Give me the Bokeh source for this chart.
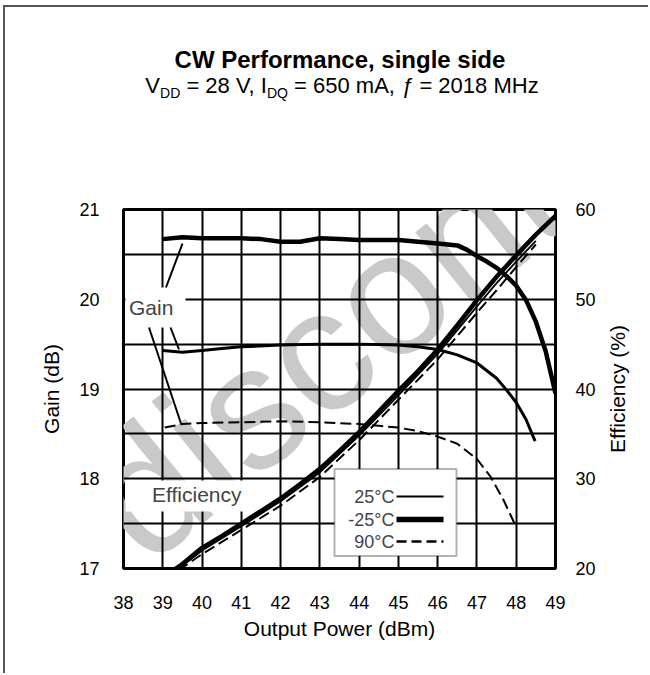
import math
from bokeh.plotting import figure
from bokeh.models import Range1d, LinearAxis, FixedTicker, Label, BoxAnnotation, Arrow, Div
from bokeh.layouts import column, row
from bokeh.embed import file_html
from bokeh.resources import INLINE

# ---------------- data ----------------
x_ticks = [38, 39, 40, 41, 42, 43, 44, 45, 46, 47, 48, 49]
gain_ticks = [17, 18, 19, 20, 21]
gain_grid = [17, 17.5, 18, 18.5, 19, 19.5, 20, 20.5, 21]
eff_ticks = [20, 30, 40, 50, 60]

pout_g_m25 = [39.0, 39.5, 40.0, 40.5, 41.0, 41.5, 42.0, 42.5, 43.0, 43.5, 44.0, 44.5, 45.0,
              45.5, 46.0, 46.5, 46.75, 47.0, 47.25, 47.5, 47.75, 48.0, 48.25, 48.5, 48.75, 49.0]
gain_m25 = [20.67, 20.69, 20.68, 20.68, 20.68, 20.67, 20.64, 20.64, 20.68, 20.67, 20.66, 20.66, 20.66,
            20.64, 20.62, 20.60, 20.55, 20.48, 20.42, 20.35, 20.26, 20.15, 19.99, 19.75, 19.42, 18.95]

pout_g_25 = [39.0, 39.5, 40.0, 40.5, 41.0, 42.0, 43.0, 44.0, 45.0, 45.5, 46.0, 46.5, 47.0,
             47.5, 47.75, 48.0, 48.25, 48.48]
gain_25 = [19.43, 19.41, 19.43, 19.45, 19.47, 19.49, 19.50, 19.50, 19.49, 19.47, 19.44, 19.38, 19.29,
           19.12, 18.99, 18.85, 18.66, 18.42]

pout_g_90 = [39.05, 39.5, 40.0, 41.0, 42.0, 43.0, 44.0, 44.5, 45.0, 45.5, 46.0, 46.5, 47.0,
             47.35, 47.68, 48.0]
gain_90 = [18.57, 18.61, 18.62, 18.63, 18.64, 18.63, 18.61, 18.59, 18.57, 18.53, 18.47, 18.39, 18.22,
           18.02, 17.76, 17.46]

pout_e_m25 = [39.2, 39.5, 40.0, 40.5, 41.0, 41.5, 42.0, 42.5, 43.0, 43.5, 44.0, 44.5, 45.0, 45.5,
              46.0, 46.5, 47.0, 47.5, 48.0, 48.5, 49.0]
eff_m25 = [19.6, 20.5, 22.3, 23.6, 25.0, 26.4, 27.8, 29.4, 31.1, 33.1, 35.2, 37.5, 39.8, 42.0,
           44.4, 47.1, 49.9, 52.5, 54.9, 57.2, 59.3]

pout_e_25 = [39.3, 39.5, 40.0, 41.0, 42.0, 43.0, 44.0, 45.0, 46.0, 47.0, 47.5, 48.0, 48.5]
eff_25 = [19.7, 20.3, 22.0, 24.7, 27.5, 30.7, 34.8, 39.3, 43.9, 49.2, 51.8, 54.2, 56.5]

pout_e_90 = [39.4, 40.0, 41.0, 42.0, 43.0, 44.0, 45.0, 46.0, 47.0, 47.5, 48.0, 48.5]
eff_90 = [19.8, 21.6, 24.3, 27.0, 30.2, 34.3, 38.8, 43.3, 48.5, 51.0, 53.6, 56.1]

legend_labels = ["25°C", "-25°C", "90°C"]
title_text = "CW Performance, single side"
x_title = "Output Power (dBm)"
y_title = "Gain (dB)"
y2_title = "Efficiency (%)"

# ---------------- layout constants ----------------
FONT = "Liberation Sans"
OX, OY = 5, 7                 # content origin on page (after margin + border)
DIV_H = 100
FL, FT, FW, FH = 123.0, 209.0, 432.0, 359.0   # frame position on page
TOTAL_W = 643
CANVAS_H = 566
MBL = int(FL - OX)
MBT = int(FT - OY - DIV_H)
MBR = 45
CANVAS_W = MBL + int(FW) + MBR
SIDE_W = TOTAL_W - CANVAS_W
MBB = CANVAS_H - MBT - int(FH)

# ---------------- title block ----------------
html = (
    f"<div style=\"font-family:'{FONT}',Arial,sans-serif;color:black;line-height:1;"
    f"width:620px;margin-left:25px;text-align:center;padding-top:41px;\">"
    f"<div style=\"font-size:24px;font-weight:bold;\">{title_text}</div>"
    f"<div style=\"font-size:22px;margin-top:3px;padding-left:4px;white-space:nowrap;\">"
    f"V<span style=\"font-size:14px;vertical-align:-4.5px;line-height:0;\">DD</span> = 28 V, "
    f"I<span style=\"font-size:14px;vertical-align:-4.5px;line-height:0;\">DQ</span> = 650 mA, "
    f"<i>ƒ</i> = 2018 MHz</div></div>"
)
head = Div(text=html, width=TOTAL_W, height=DIV_H, margin=0)

# right-hand axis title (reads bottom-to-top, as in the reference)
rx = 617 - (OX + CANVAS_W)
ry = 389 - (OY + DIV_H)
side_html = (
    f"<div style=\"position:relative;width:{SIDE_W}px;height:{CANVAS_H}px;\">"
    f"<div style=\"position:absolute;left:{rx}px;top:{ry}px;"
    f"transform:translate(-50%,-50%) rotate(180deg);writing-mode:vertical-rl;"
    f"font-family:'{FONT}',Arial,sans-serif;font-size:21px;line-height:1;white-space:nowrap;"
    f"color:black;\">{y2_title}</div></div>"
)
side = Div(text=side_html, width=SIDE_W, height=CANVAS_H, margin=0)

# ---------------- figure ----------------
p = figure(frame_width=int(FW), frame_height=int(FH),
           min_border_left=MBL, min_border_right=MBR, min_border_top=MBT, min_border_bottom=MBB,
           x_range=Range1d(38, 49), y_range=Range1d(17, 21),
           output_backend="svg", toolbar_location=None, margin=0)
p.extra_y_ranges = {"eff": Range1d(20, 60)}
p.background_fill_color = "white"
p.border_fill_color = "white"
p.outline_line_color = "black"
p.outline_line_width = 3

p.xgrid.ticker = FixedTicker(ticks=x_ticks)
p.ygrid.ticker = FixedTicker(ticks=gain_grid)
for g in (p.xgrid, p.ygrid):
    g.grid_line_color = "black"
    g.grid_line_width = 2
    g.grid_line_alpha = 1

def style_axis(ax, standoff, title, title_standoff):
    ax.axis_line_color = None
    ax.major_tick_line_color = None
    ax.minor_tick_line_color = None
    ax.major_label_standoff = standoff
    ax.major_label_text_font = FONT
    ax.major_label_text_font_size = "18px"
    ax.major_label_text_color = "black"
    if title:
        ax.axis_label = title
        ax.axis_label_text_font = FONT
        ax.axis_label_text_font_size = "21px"
        ax.axis_label_text_font_style = "normal"
        ax.axis_label_text_color = "black"
        ax.axis_label_standoff = title_standoff

p.xaxis.ticker = FixedTicker(ticks=x_ticks)
style_axis(p.xaxis[0], 21, x_title, 5)
p.yaxis.ticker = FixedTicker(ticks=gain_ticks)
style_axis(p.yaxis[0], 18, y_title, 13)

ax_r = LinearAxis(y_range_name="eff", ticker=FixedTicker(ticks=eff_ticks))
style_axis(ax_r, 14, None, 0)
p.add_layout(ax_r, "right")

def sx(X):
    return X - FL
def sy(Y):
    return FT + FH - Y

# watermark (under grid)
p.add_layout(Label(x=sx(490), y=sy(212), x_units="screen", y_units="screen",
                   text="discontinued", angle=math.radians(39),
                   text_font=FONT, text_font_size="175px", text_color="#c9c9c9",
                   text_align="center", text_baseline="alphabetic", level="image"))

# curves
p.line(pout_g_m25, gain_m25, line_color="black", line_width=4.5, line_join="round")
p.line(pout_g_25, gain_25, line_color="black", line_width=3, line_join="round")
p.line(pout_g_90, gain_90, line_color="black", line_width=2, line_dash="11 5")
p.line(pout_e_m25, eff_m25, y_range_name="eff", line_color="black", line_width=4.5, line_join="round")
p.line(pout_e_25, eff_25, y_range_name="eff", line_color="black", line_width=1.8, line_join="round")
p.line(pout_e_90, eff_90, y_range_name="eff", line_color="black", line_width=2, line_dash="11 5")

def dx(X):
    return 38 + (X - FL) * 11.0 / FW
def gy(Y):
    return 21 - (Y - FT) * 4.0 / FH

# annotation boxes and texts
p.add_layout(BoxAnnotation(left=dx(125), right=dx(185), top=gy(287), bottom=gy(327),
                           fill_color="white", fill_alpha=1, line_color=None))
p.add_layout(BoxAnnotation(left=dx(125), right=dx(250), top=gy(480), bottom=gy(511),
                           fill_color="white", fill_alpha=1, line_color=None))
p.add_layout(Label(x=sx(128.5), y=sy(307), x_units="screen", y_units="screen", text="Gain",
                   text_font=FONT, text_font_size="21px", text_align="left", text_baseline="middle"))
p.add_layout(Label(x=sx(151.5), y=sy(494), x_units="screen", y_units="screen", text="Efficiency",
                   text_font=FONT, text_font_size="21px", text_align="left", text_baseline="middle"))

for (x0, y0, x1, y1) in [(165.5, 287, 182, 243), (170, 327, 178.5, 349), (148.5, 327, 180.5, 423)]:
    p.add_layout(Arrow(end=None, x_start=dx(x0), y_start=gy(y0), x_end=dx(x1), y_end=gy(y1),
                       line_color="black", line_width=2))

# legend
p.add_layout(BoxAnnotation(left=dx(334), right=dx(456), top=gy(468.5), bottom=gy(555.5),
                           fill_color="white", fill_alpha=1, line_color="black", line_width=2))
leg_rows = [496, 519, 541]
leg_w = [2, 5.5, 2.3]
leg_dash = ["solid", "solid", "10 5"]
for lab, Y, w, d in zip(legend_labels, leg_rows, leg_w, leg_dash):
    p.add_layout(Label(x=sx(394), y=sy(Y), x_units="screen", y_units="screen", text=lab,
                       text_font=FONT, text_font_size="18px", text_align="right", text_baseline="middle"))
    p.add_layout(Arrow(end=None, x_start=dx(396), y_start=gy(Y), x_end=dx(443), y_end=gy(Y),
                       line_color="black", line_width=w, line_dash=d))

layout = column(head, row(p, side, spacing=0), spacing=0)
layout.styles = {"margin-left": "3px", "margin-top": "5px",
                 "border-left": "2px solid #555555", "border-top": "2px solid #555555"}

open("out.html", "w").write(file_html(layout, INLINE))
